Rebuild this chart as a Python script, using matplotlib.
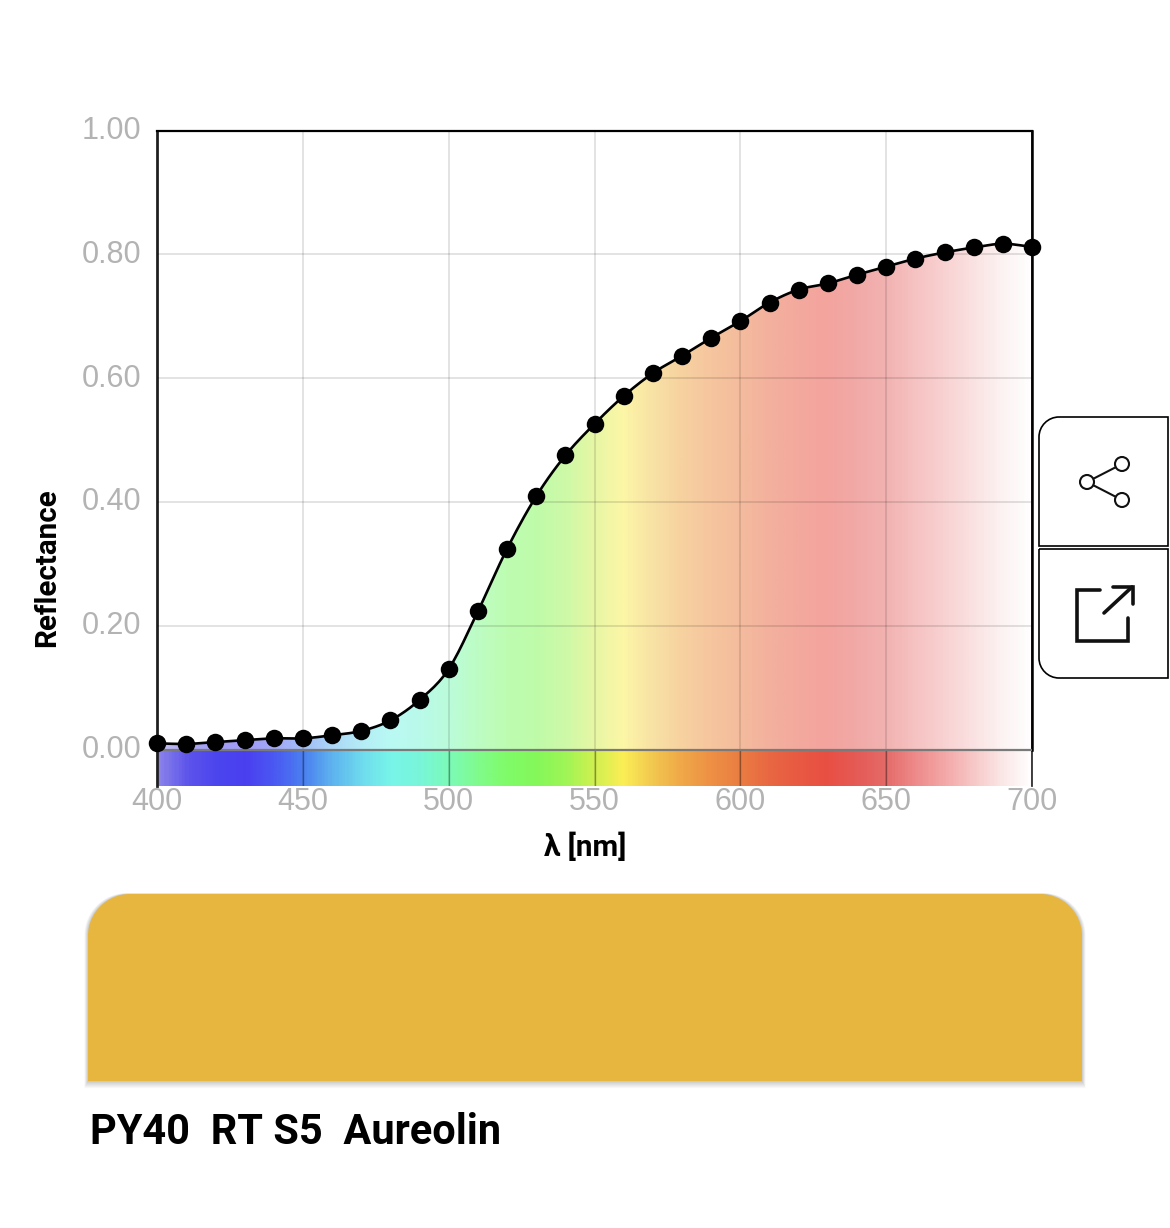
import numpy as np
import matplotlib
matplotlib.use("Agg")
import matplotlib.pyplot as plt
from matplotlib.colors import LinearSegmentedColormap
from matplotlib.patches import Circle, PathPatch, Polygon
from matplotlib.path import Path
from matplotlib.transforms import ScaledTranslation

wavelength = [400, 410, 420, 430, 440, 450, 460, 470, 480, 490, 500,
              510, 520, 530, 540, 550, 560, 570, 580, 590, 600,
              610, 620, 630, 640, 650, 660, 670, 680, 690, 700]
reflectance = [0.010, 0.009, 0.012, 0.015, 0.018, 0.018, 0.023, 0.030, 0.047, 0.080, 0.130,
               0.223, 0.324, 0.409, 0.475, 0.526, 0.571, 0.608, 0.636, 0.665, 0.692,
               0.722, 0.743, 0.753, 0.767, 0.780, 0.793, 0.803, 0.811, 0.817, 0.812]
spectrum_colors = ["#8a82ea", "#5c53ec", "#4b45ee", "#4a3ff0", "#4a5af2", "#4a80f0", "#5fb5ee", "#6fdcee",
                   "#78f5e8", "#78f6d8", "#7cfab8", "#80fb8c", "#80fb68", "#84f85a", "#a0f556", "#d0f050",
                   "#fbee55", "#f2c850", "#f0a848", "#ee9045", "#ea7e42", "#e86842", "#e85a42", "#e94f43",
                   "#e55a55", "#e46a68", "#ee8888", "#f3a5a5", "#f7c5c5", "#fbe5e5", "#fffdfd"]
x_ticks = [400, 450, 500, 550, 600, 650, 700]
y_ticks = [0.0, 0.2, 0.4, 0.6, 0.8, 1.0]
y_labels = ["0.00", "0.20", "0.40", "0.60", "0.80", "1.00"]
swatch_color = "#e7b63f"
title = "PY40  RT S5  Aureolin"

W, H = 1170, 1228
AX_L, AX_R, AX_T, AX_ZERO, AX_B = 157, 1032, 130.5, 749.5, 786
y_min = -(AX_B - AX_ZERO) / (AX_ZERO - AX_T)


def smooth(x, y, n=12):
    # catmull-rom just for the look of the line
    x = np.array(x, dtype=float)
    y = np.array(y, dtype=float)
    m = np.gradient(y, x)
    xs, ys = [], []
    for i in range(len(x) - 1):
        h = x[i + 1] - x[i]
        t = np.linspace(0, 1, n, endpoint=False)
        xs.extend(x[i] + t * h)
        ys.extend((2*t**3 - 3*t**2 + 1) * y[i] + (t**3 - 2*t**2 + t) * h * m[i]
                  + (-2*t**3 + 3*t**2) * y[i + 1] + (t**3 - t**2) * h * m[i + 1])
    xs.append(x[-1])
    ys.append(y[-1])
    return np.array(xs), np.array(ys)


def rounded(x0, y0, x1, y1, tl=0, tr=0, br=0, bl=0):
    k = 0.45
    v = [(x0 + tl, y0), (x1 - tr, y0), (x1 - tr * k, y0), (x1, y0 + tr * k), (x1, y0 + tr),
         (x1, y1 - br), (x1, y1 - br * k), (x1 - br * k, y1), (x1 - br, y1),
         (x0 + bl, y1), (x0 + bl * k, y1), (x0, y1 - bl * k), (x0, y1 - bl),
         (x0, y0 + tl), (x0, y0 + tl * k), (x0 + tl * k, y0), (x0 + tl, y0)]
    c = [Path.MOVETO, Path.LINETO, Path.CURVE4, Path.CURVE4, Path.CURVE4,
         Path.LINETO, Path.CURVE4, Path.CURVE4, Path.CURVE4,
         Path.LINETO, Path.CURVE4, Path.CURVE4, Path.CURVE4,
         Path.LINETO, Path.CURVE4, Path.CURVE4, Path.CURVE4]
    return Path(v, c)


fig = plt.figure(figsize=(W / 100, H / 100), dpi=100, facecolor="white")

ax = fig.add_axes([AX_L / W, 1 - AX_B / H, (AX_R - AX_L) / W, (AX_B - AX_T) / H])
cmap = LinearSegmentedColormap.from_list("spectrum", spectrum_colors)
grad = np.linspace(0, 1, 600).reshape(1, -1)

lx, ly = smooth(wavelength, reflectance)

# washed out spectrum below the curve
top_img = ax.imshow(grad, cmap=cmap, extent=(400, 700, 0, 1), aspect="auto", alpha=0.52, zorder=1)
under = Polygon(np.vstack([np.column_stack([lx, ly]), [700, 0], [400, 0]]), closed=True,
                transform=ax.transData, facecolor="none", edgecolor="none")
ax.add_patch(under)
top_img.set_clip_path(under)

# full strength strip under zero
ax.imshow(grad, cmap=cmap, extent=(400, 700, y_min, 0), aspect="auto", zorder=1)

ax.set_xlim(400, 700)
ax.set_ylim(y_min, 1)
ax.set_xticks(x_ticks)
ax.set_yticks(y_ticks)
ax.set_yticklabels(y_labels)
ax.tick_params(length=0, labelsize=22, labelcolor="#b3b3b3", labelfontfamily="Liberation Sans")
ax.tick_params(axis="x", pad=0.5)
ax.tick_params(axis="y", pad=11)
# labels sit a little above their gridline
up = ScaledTranslation(0, 3 / 100, fig.dpi_scale_trans)
for t in ax.get_yticklabels():
    t.set_transform(t.get_transform() + up)
ax.grid(True, color="#000000", alpha=0.14, linewidth=1.1, zorder=2)
ax.set_axisbelow(False)
for xv in x_ticks[1:-1]:
    ax.plot([xv, xv], [y_min, 0], color="black", alpha=0.3, lw=1.0, zorder=2)

for s in ["top", "bottom"]:
    ax.spines[s].set_visible(False)
ax.spines["left"].set_color("#222222")
ax.spines["left"].set_linewidth(2)
ax.spines["right"].set_color("#333333")
ax.spines["right"].set_linewidth(1.3)
ax.plot([400, 700], [1, 1], color="black", lw=1.6, zorder=3, clip_on=False)
ax.plot([700, 700], [0, 1], color="black", lw=1.8, zorder=3, clip_on=False)
ax.axhline(0, color="#7a7a7a", lw=1.6, zorder=3)

ax.plot(lx, ly, color="black", lw=1.9, zorder=4, clip_on=False)
ax.plot(wavelength, reflectance, "o", color="black", ms=12.6, mew=0, zorder=5, clip_on=False)

# everything else in pixel coords
ov = fig.add_axes([0, 0, 1, 1], zorder=-1)
ov.set_xlim(0, W)
ov.set_ylim(H, 0)
ov.axis("off")

ov.text(47, 568, "Reflectance", rotation=90, ha="center", va="center",
        fontsize=21.3, fontweight="bold", family="Roboto", color="black")
ov.text(585, 847, "λ [nm]", ha="center", va="center",
        fontsize=21.3, fontweight="bold", family="Roboto", color="black")

# swatch + soft shadow, mostly under it
for i in range(9, 0, -1):
    ov.add_patch(PathPatch(rounded(88 - i * 0.4, 894 - i * 0.1, 1082 + i * 0.4, 1081 + i * 0.8, tl=42, tr=42),
                           facecolor="black", edgecolor="none", alpha=0.022))
ov.add_patch(PathPatch(rounded(88, 894, 1082, 1081, tl=42, tr=42), facecolor=swatch_color, edgecolor="none"))
ov.text(90, 1133, title, ha="left", va="center", fontsize=29.9, fontweight="bold",
        family="Roboto", color="black")

# share / open buttons
ov.add_patch(PathPatch(rounded(1039, 417, 1168, 546, tl=20), facecolor="white", edgecolor="black", lw=1.2))
ov.add_patch(PathPatch(rounded(1039, 549, 1168, 678, bl=20), facecolor="white", edgecolor="black", lw=1.2))
ov.plot([1087, 1122], [482, 464], color="#111111", lw=1.5)
ov.plot([1087, 1122], [482, 500], color="#111111", lw=1.5)
for cx, cy in [(1087, 482), (1122, 464), (1122, 500)]:
    ov.add_patch(Circle((cx, cy), 7, facecolor="white", edgecolor="#111111", lw=1.5, zorder=3))
ov.plot([1100, 1077, 1077, 1128, 1128], [590, 590, 641, 641, 618], color="#111111", lw=2.6,
        solid_capstyle="round", solid_joinstyle="miter")
ov.plot([1104, 1132], [613, 587], color="#111111", lw=2.6, solid_capstyle="round")
ov.plot([1113, 1133, 1133], [587, 587, 604], color="#111111", lw=2.6,
        solid_capstyle="round", solid_joinstyle="miter")

fig.savefig("out.png", dpi=100, facecolor="white")
